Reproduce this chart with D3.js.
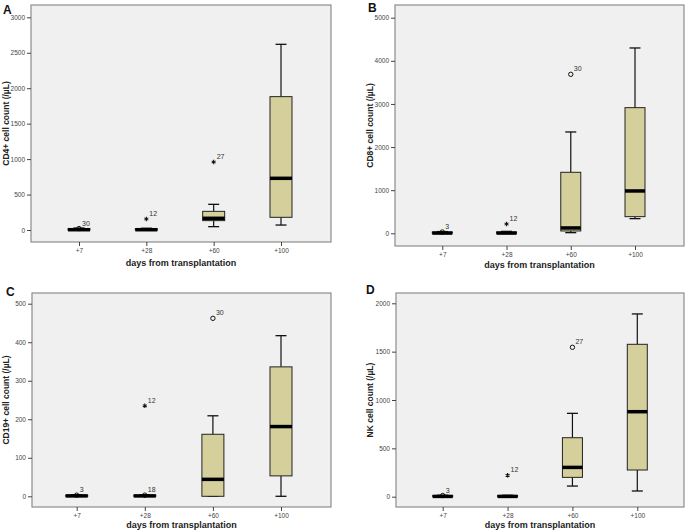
<!DOCTYPE html>
<html><head><meta charset="utf-8">
<script src="https://cdn.jsdelivr.net/npm/d3@7"></script>
<style>body{margin:0;background:#fff}svg{display:block}</style>
</head><body>
<svg id="c" width="685" height="531"></svg>
<script>
// ---------- data ----------
const categories = ["+7", "+28", "+60", "+100"];
// [whiskerLow, q1, median, q3, whiskerHigh]
const cd4Stats  = [[0,0,4,18,28],[0,0,4,18,25],[47,132,165,263,362],[70,179,729,1881,2619]];
const cd8Stats  = [[0,0,5,30,40],[0,0,5,30,45],[15,54,124,1415,2350],[340,386,982,2914,4298]];
const cd19Stats = [[0,0,1,3,4],[0,0,1,3,4],[0,0,44,161,209],[0,53,181,336,417]];
const nkStats   = [[0,0,3,12,15],[0,0,3,12,15],[110,200,303,610,862],[59,276,879,1576,1890]];
// outliers: [categoryIndex, value, label, symbol]
const cd4Outliers  = [[0,20,"30","circle"],[1,155,"12","star"],[2,959,"27","star"]];
const cd8Outliers  = [[0,30,"3","circle"],[1,216,"12","star"],[2,3687,"30","circle"]];
const cd19Outliers = [[0,3,"3","circle"],[1,3,"18","circle"],[1,235,"12","star"],[2,462,"30","circle"]];
const nkOutliers   = [[0,12,"3","circle"],[1,221,"12","star"],[2,1545,"27","circle"]];
const cd4Ticks  = [0,500,1000,1500,2000,2500,3000];
const cd8Ticks  = [0,1000,2000,3000,4000,5000];
const cd19Ticks = [0,100,200,300,400,500];
const nkTicks   = [0,500,1000,1500,2000];
const panelLetters = ["A","B","C","D"];
const yTitles = ["CD4+ cell count (/µL)","CD8+ cell count (/µL)","CD19+ cell count (/µL)","NK cell count (/µL)"];
const xTitle = "days from transplantation";

// ---------- layout ----------
const panels = [
  {stats:cd4Stats, out:cd4Outliers, ticks:cd4Ticks, max:3000, fx0:31, fx1:331, fy0:5, fy1:242, y0:230, yMax:17.3, px0:79, px1:281, ytx:9, bw:22, lx:3, ly:14, tdy:24},
  {stats:cd8Stats, out:cd8Outliers, ticks:cd8Ticks, max:5000, fx0:395, fx1:684, fy0:5, fy1:246, y0:233.3, yMax:17.7, px0:442.3, px1:635, ytx:373, bw:20, lx:368, ly:12, tdy:22},
  {stats:cd19Stats, out:cd19Outliers, ticks:cd19Ticks, max:500, fx0:32, fx1:331, fy0:293, fy1:507, y0:496.3, yMax:303.7, px0:76.7, px1:281, ytx:9, bw:22, lx:6, ly:296, tdy:21},
  {stats:nkStats, out:nkOutliers, ticks:nkTicks, max:2000, fx0:396, fx1:684, fy0:293, fy1:507, y0:496.7, yMax:303.3, px0:442.7, px1:637.3, ytx:373, bw:20, lx:366, ly:294, tdy:21}
];

const svg = d3.select("#c");
const font = "Liberation Sans, Arial, sans-serif";

panels.forEach((p, i) => {
  const g = svg.append("g");
  const x = d3.scalePoint().domain(categories).range([p.px0, p.px1]);
  const y = d3.scaleLinear().domain([0, p.max]).range([p.y0, p.yMax]);

  g.append("rect").attr("x", p.fx0).attr("y", p.fy0)
    .attr("width", p.fx1 - p.fx0).attr("height", p.fy1 - p.fy0)
    .attr("fill", "#f0f0f0").attr("stroke", "#8c8c8c").attr("stroke-width", 1.2);

  // y axis
  const yAxis = d3.axisLeft(y).tickValues(p.ticks).tickSize(4).tickPadding(2).tickFormat(d3.format("d"));
  const ya = g.append("g").attr("transform", `translate(${p.fx0},0)`).call(yAxis);
  ya.attr("color", "#444");
  ya.select(".domain").remove();
  ya.selectAll("text").attr("font-size", 6.5).attr("font-family", font);

  // x axis
  const xAxis = d3.axisBottom(x).tickSize(4).tickPadding(2);
  const xa = g.append("g").attr("transform", `translate(0,${p.fy1})`).call(xAxis);
  xa.attr("color", "#444");
  xa.select(".domain").remove();
  xa.selectAll("text").attr("font-size", 6.5).attr("font-family", font);

  // titles
  g.append("text").attr("x", (p.fx0 + p.fx1) / 2).attr("y", p.fy1 + p.tdy)
    .attr("text-anchor", "middle").attr("font-family", font).attr("font-weight", "bold")
    .attr("font-size", 9).attr("fill", "#222").text(xTitle);
  g.append("text").attr("transform", `translate(${p.ytx},${(p.fy0 + p.fy1) / 2}) rotate(-90)`)
    .attr("text-anchor", "middle").attr("font-family", font).attr("font-weight", "bold")
    .attr("font-size", 8.5).attr("fill", "#222").text(yTitles[i]);
  g.append("text").attr("x", p.lx).attr("y", p.ly).attr("font-family", font)
    .attr("font-weight", "bold").attr("font-size", 12).attr("fill", "#111").text(panelLetters[i]);

  // outlier markers (drawn under the boxes)
  p.out.forEach(o => {
    const cx = x(categories[o[0]]), cy = y(o[1]);
    if (o[3] === "star") {
      g.append("path").attr("d", d3.symbol(d3.symbolAsterisk, 14)())
        .attr("transform", `translate(${cx},${cy})`).attr("stroke", "#111").attr("stroke-width", 1.1).attr("fill", "none");
    } else {
      g.append("circle").attr("cx", cx).attr("cy", cy).attr("r", 2.2)
        .attr("fill", "none").attr("stroke", "#111").attr("stroke-width", 1);
    }
  });

  // boxes
  const cap = 11;
  p.stats.forEach((s, k) => {
    const cx = x(categories[k]);
    const [lo, q1, md, q3, hi] = s;
    g.append("line").attr("x1", cx).attr("x2", cx).attr("y1", y(hi)).attr("y2", y(q3))
      .attr("stroke", "#111").attr("stroke-width", 1.2);
    g.append("line").attr("x1", cx).attr("x2", cx).attr("y1", y(q1)).attr("y2", y(lo))
      .attr("stroke", "#111").attr("stroke-width", 1.2);
    g.append("line").attr("x1", cx - cap / 2).attr("x2", cx + cap / 2).attr("y1", y(hi)).attr("y2", y(hi))
      .attr("stroke", "#111").attr("stroke-width", 1.3);
    g.append("line").attr("x1", cx - cap / 2).attr("x2", cx + cap / 2).attr("y1", y(lo)).attr("y2", y(lo))
      .attr("stroke", "#111").attr("stroke-width", 1.3);
    g.append("rect").attr("x", cx - p.bw / 2).attr("y", y(q3)).attr("width", p.bw)
      .attr("height", Math.max(0.1, y(q1) - y(q3)))
      .attr("fill", "#d5d09b").attr("stroke", "#222").attr("stroke-width", 1);
    g.append("line").attr("x1", cx - p.bw / 2).attr("x2", cx + p.bw / 2).attr("y1", y(md)).attr("y2", y(md))
      .attr("stroke", "#000").attr("stroke-width", 3.5);
  });

  // outlier labels
  p.out.forEach(o => {
    const cx = x(categories[o[0]]), cy = y(o[1]);
    g.append("text").attr("x", cx + 3).attr("y", cy - 3).attr("font-family", font)
      .attr("font-size", 7).attr("fill", "#333").text(o[2]);
  });
});
</script>
</body></html>
